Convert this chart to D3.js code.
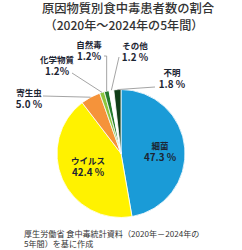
<!DOCTYPE html>
<html>
<head>
<meta charset="utf-8">
<script src="https://cdn.jsdelivr.net/npm/d3@7"></script>
<style>
  body { margin: 0; background: #fff; }
  text { font-family: "Noto Sans CJK JP", "Noto Sans", sans-serif; }
</style>
</head>
<body>
<script>
// data
var categories = ["細菌", "ウイルス", "寄生虫", "化学物質", "自然毒", "その他", "不明"];
var values = [47.3, 42.4, 5.0, 1.2, 1.2, 1.2, 1.8];
var valueLabels = ["47.3 %", "42.4 %", "5.0 %", "1.2%", "1.2%", "1.2 %", "1.8 %"];
var colors = ["#1a9bd7", "#fff200", "#f5933a", "#8dc63f", "#237a2c", "#ffffff", "#103d18"];

var width = 242, height = 250;
var cx = 121, cy = 153.5, r = 64;

var svg = d3.select("body").append("svg")
  .attr("width", width)
  .attr("height", height);

// title
svg.append("text").attr("x", 128).attr("y", 13)
  .attr("text-anchor", "middle").attr("font-size", 12.3).attr("font-weight", 500)
  .attr("fill", "#333").text("原因物質別食中毒患者数の割合");
svg.append("text").attr("x", 124).attr("y", 30)
  .attr("text-anchor", "middle").attr("font-size", 12.1).attr("font-weight", 500)
  .attr("fill", "#333").text("（2020年～2024年の5年間）");

var pie = d3.pie().sort(null).value(function(d) { return d; });
var arcs = pie(values);
var arc = d3.arc().innerRadius(0).outerRadius(r);

var g = svg.append("g").attr("transform", "translate(" + cx + "," + cy + ")");

g.selectAll("path")
  .data(arcs)
  .enter()
  .append("path")
  .attr("d", arc)
  .style("fill", function(d, i) { return colors[i]; })
  .style("stroke", "#fff")
  .style("stroke-width", 0.8);

// point on the rim at a slice's middle angle
function rim(d) {
  var a = (d.startAngle + d.endAngle) / 2;
  return [cx + r * Math.sin(a), cy - r * Math.cos(a)];
}

// inside labels
var inside = [
  { i: 0, x: 160, y: 144.5 },
  { i: 1, x: 88, y: 159.5 }
];
// outside labels with leader line start
var outside = [
  { i: 2, x: 29, y: 91.5, lx: 43, ly: 96, elbow: false },
  { i: 3, x: 57, y: 58.5, lx: 72, ly: 73, elbow: false },
  { i: 4, x: 89, y: 43.5, lx: 104, ly: 56, elbow: true },
  { i: 5, x: 135, y: 44.5, lx: 119, ly: 57, elbow: false },
  { i: 6, x: 172, y: 71.5, lx: 155, ly: 87, elbow: false }
];

var labelColor = "#1c2533";

function drawLabel(x, y, i) {
  svg.append("text").attr("x", x).attr("y", y)
    .attr("text-anchor", "middle").attr("dominant-baseline", "central")
    .attr("font-size", 8.5).attr("font-weight", 700).attr("fill", labelColor)
    .text(categories[i]);
  svg.append("text").attr("x", x).attr("y", y + 12)
    .attr("text-anchor", "middle").attr("dominant-baseline", "central")
    .attr("font-size", 9.8).attr("font-weight", 700).attr("fill", labelColor)
    .text(valueLabels[i]);
}

inside.forEach(function(o) { drawLabel(o.x, o.y, o.i); });

outside.forEach(function(o) {
  var p = rim(arcs[o.i]);
  var pts = o.elbow ? [[o.lx, o.ly], [p[0], o.ly], p] : [[o.lx, o.ly], p];
  svg.append("path")
    .attr("d", d3.line()(pts))
    .style("fill", "none")
    .style("stroke", "#9a9a9a")
    .style("stroke-width", 0.9);
  drawLabel(o.x, o.y, o.i);
});

// source note
svg.append("text").attr("x", 24).attr("y", 233)
  .attr("dominant-baseline", "central").attr("font-size", 8.1).attr("fill", "#333")
  .text("厚生労働省 食中毒統計資料（2020年－2024年の");
svg.append("text").attr("x", 24).attr("y", 243)
  .attr("dominant-baseline", "central").attr("font-size", 8.1).attr("fill", "#333")
  .text("5年間）を基に作成");
</script>
</body>
</html>
